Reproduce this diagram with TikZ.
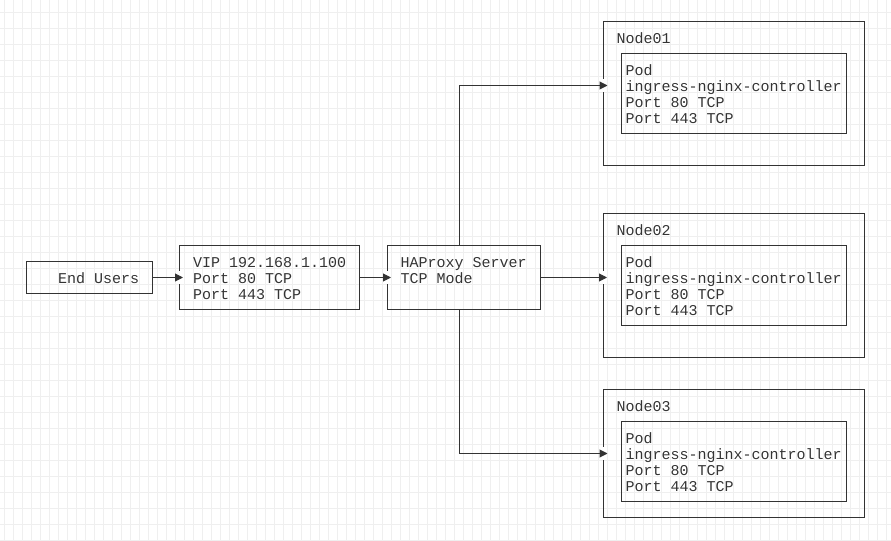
\documentclass[tikz,border=0pt]{standalone}
\usepackage{fontspec}
\setmonofont{Liberation Mono}
\usetikzlibrary{arrows.meta,positioning,calc}
\definecolor{ink}{HTML}{333333}
\definecolor{gridgray}{HTML}{EFEFEF}

\begin{document}
\begin{tikzpicture}
    [
      x=1bp, y=-1bp,
      box/.style={draw=ink, line width=1bp, inner sep=0pt},
      txt/.style={anchor=base west, inner sep=0pt, align=left, text=ink,
        font=\ttfamily\fontsize{15bp}{16bp}\selectfont},
      link/.style={draw=ink, line width=1bp,
        -{Triangle[length=8bp,width=8bp]}, shorten >=-4bp}
    ]
    \useasboundingbox (0,0) rectangle (891,541);
    % background grid
    \foreach \x in {0,...,98} {
        \draw[gridgray, line width=1bp] (4.5+9*\x,0) -- (4.5+9*\x,541);
    }
    \foreach \y in {0,...,33} {
        \draw[gridgray, line width=1bp] (0,12.5+16*\y) -- (891,12.5+16*\y);
    }
    \begin{scope}[shift={(0.5,0.5)}]
    % entry side (text nodes sit on the baseline of their last line)
    \node[box, minimum width=126bp, minimum height=32bp] (users) at (89,277) {};
    \node[box, minimum width=180bp, minimum height=64bp] (vip) at (269,277) {};
    \node[box, minimum width=153bp, minimum height=64bp] (haproxy) at (463.5,277) {};
    \node[txt] (usersText) at (57.5,283) {End Users};
    \node[txt] (vipText) at (192.5,299) {VIP 192.168.1.100\\Port 80 TCP\\Port 443 TCP};
    \node[txt] (haproxyText) at (400,283) {HAProxy Server\\TCP Mode};
    % worker nodes
    \foreach \n/\cy/\h/\py in {01/93/144/93, 02/285/144/285, 03/453/128/461} {
        \node[box, minimum width=261bp, minimum height=\h bp] (node\n) at (733.5,\cy) {};
        \node[box, minimum width=225bp, minimum height=80bp] (pod\n) at (733.5,\py) {};
        \node[txt] (node\n Text) at (616,\py-50) {Node\n};
        \node[txt] (pod\n Text) at (625,\py+30)
            {Pod\\ingress-nginx-controller\\Port 80 TCP\\Port 443 TCP};
    }
    % branch points
    \coordinate (tap) at (459,0);
    \coordinate (in01) at (603,85);
    \coordinate (in02) at (haproxy.east -| node02.west);
    \coordinate (in03) at (603,453);
    \foreach \p in {vip.west, haproxy.west, in01, in02, in03} {
        \fill[white] ($(\p)+(-1.5,-6.5)$) rectangle ($(\p)+(1.5,6.5)$);
    }
    % links
    \draw[link] (users) -- (vip);
    \draw[link] (vip) -- (haproxy);
    \draw[link] (haproxy.east) -- (in02);
    \draw[link] (haproxy.north -| tap) |- (in01);
    \draw[link] (haproxy.south -| tap) |- (in03);
    \end{scope}
\end{tikzpicture}
\end{document}
